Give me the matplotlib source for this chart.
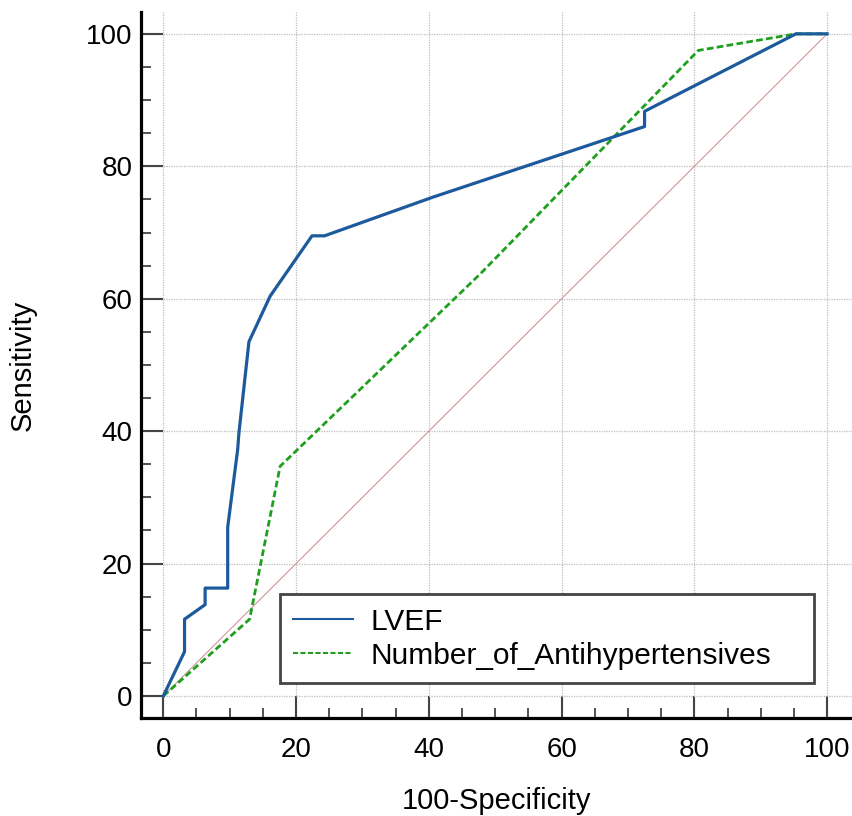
"""ROC curves: LVEF vs Number_of_Antihypertensives"""

import matplotlib
matplotlib.use("Agg")
import matplotlib.pyplot as plt
from matplotlib.ticker import MultipleLocator

plt.rcParams['font.family'] = ['Liberation Sans', 'DejaVu Sans']

# ROC points (100-Specificity, Sensitivity)
lvef_x = [0, 3.2, 3.2, 6.3, 6.3, 9.7, 9.7, 11.2, 11.4, 12.9, 16.1, 22.4, 24.3, 40.5, 72.5, 72.5, 95.3, 100]
lvef_y = [0, 6.7, 11.6, 13.8, 16.3, 16.3, 25.5, 37.2, 39.8, 53.5, 60.4, 69.5, 69.5, 75.3, 86.0, 88.3, 100, 100]

anti_x = [0, 13.0, 17.6, 47.8, 80.6, 95.3, 100]
anti_y = [0, 11.6, 34.7, 63.8, 97.5, 100, 100]

diag = [0, 100]
ticks = [0, 20, 40, 60, 80, 100]

fig = plt.figure(figsize=(8.53, 8.16), dpi=100)
ax = fig.add_axes([141 / 853, 98 / 816, 712 / 853, 706 / 816])

ax.plot(diag, diag, color='#c98a8a', lw=0.7, zorder=2)
ax.plot(anti_x, anti_y, color='#1ea01e', lw=2.0, ls=(0, (2.4, 1.2)),
        label='Number_of_Antihypertensives', zorder=3)
ax.plot(lvef_x, lvef_y, color='#1c5a9c', lw=2.3, label='LVEF', zorder=4)

ax.set_xlim(-3.36, 103.9)
ax.set_ylim(-3.32, 103.3)
ax.set_xticks(ticks)
ax.set_yticks(ticks)
ax.xaxis.set_minor_locator(MultipleLocator(5))
ax.yaxis.set_minor_locator(MultipleLocator(5))

ax.grid(True, which='major', color='#bdbdbd', ls=(0, (1, 1)), lw=0.9, zorder=0)

for side in ['top', 'right']:
    ax.spines[side].set_visible(False)
for side in ['left', 'bottom']:
    ax.spines[side].set_linewidth(2.3)
    ax.spines[side].set_color('black')

ax.tick_params(which='major', direction='in', length=15.8, width=1.5, color='#444444',
               labelsize=20)
ax.tick_params(axis='x', which='major', pad=14)
ax.tick_params(axis='y', which='major', pad=6)
ax.tick_params(which='minor', direction='in', length=7.2, width=1.3, color='#444444')

ax.set_xlabel('100-Specificity', fontsize=21)
ax.set_ylabel('Sensitivity', fontsize=21)
ax.xaxis.set_label_coords(0.5, -0.098)
ax.yaxis.set_label_coords(-0.146, 0.5)

handles, labels = ax.get_legend_handles_labels()
leg = ax.legend(handles[::-1], labels[::-1], loc='lower left',
                bbox_to_anchor=(0.195, 0.0496, 0.75, 0.14), mode='expand',
                fontsize=21.5, fancybox=False, framealpha=1, edgecolor='#444444',
                handlelength=2.0, handletextpad=0.6, labelspacing=0.2,
                borderpad=0.45, borderaxespad=0)
leg.get_frame().set_linewidth(2.0)
for line in leg.get_lines():
    line.set_linewidth(1.5)

fig.savefig('out.png', dpi=100)
